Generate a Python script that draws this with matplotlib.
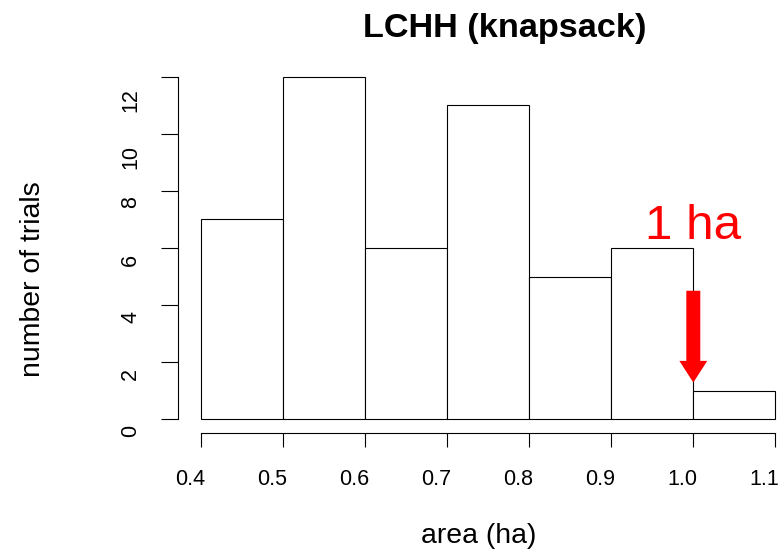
import numpy as np
import matplotlib.pyplot as plt
import matplotlib.transforms as mtransforms

plt.rcParams['font.family'] = ['Liberation Sans', 'DejaVu Sans']

# histogram data (R style hist)
bin_edges = [0.4, 0.5, 0.6, 0.7, 0.8, 0.9, 1.0, 1.1]
counts = [7, 12, 6, 11, 5, 6, 1]
x_ticks = [0.4, 0.5, 0.6, 0.7, 0.8, 0.9, 1.0, 1.1]
y_ticks = [0, 2, 4, 6, 8, 10, 12]

W, H = 781, 549
fig = plt.figure(figsize=(W / 100, H / 100), dpi=100)
# plot region in pixels: left 177.7, right 798.4, top 63.3, bottom 432.7
ax = fig.add_axes([177.7 / W, 1 - 432.7 / H, (798.4 - 177.7) / W, (432.7 - 63.3) / H])

edges = np.array(bin_edges)
ax.bar(edges[:-1], counts, width=np.diff(edges), align='edge',
       facecolor='white', edgecolor='black', linewidth=0.8)

# R extends the range by 4%
xr = edges[-1] - edges[0]
ax.set_xlim(edges[0] - 0.04 * xr, edges[-1] + 0.04 * xr)
ax.set_ylim(-0.04 * max(y_ticks), max(y_ticks) * 1.04)

for s in ['top', 'right']:
    ax.spines[s].set_visible(False)
ax.spines['bottom'].set_bounds(x_ticks[0], x_ticks[-1])
ax.spines['left'].set_bounds(y_ticks[0], y_ticks[-1])
ax.spines['bottom'].set_linewidth(0.8)
ax.spines['left'].set_linewidth(0.8)

ax.set_xticks(x_ticks)
ax.set_xticklabels(['%.1f' % v for v in x_ticks])
ax.set_yticks(y_ticks)
ax.set_yticklabels([str(v) for v in y_ticks], rotation=90, va='center')
ax.tick_params(axis='x', length=9.8, width=0.8, pad=16, labelsize=15.5)
ax.tick_params(axis='y', length=12.2, width=0.8, pad=14, labelsize=15.5)

# labels in the original sit a bit off their ticks
for lab in ax.get_xticklabels():
    lab.set_transform(lab.get_transform() +
                      mtransforms.ScaledTranslation(-11 / 100, 0, fig.dpi_scale_trans))
for lab in ax.get_yticklabels():
    dy = 23 if len(lab.get_text()) > 1 else 11.5
    lab.set_transform(lab.get_transform() +
                      mtransforms.ScaledTranslation(0, -dy / 100, fig.dpi_scale_trans))

# red arrow pointing at 1 ha
ax.arrow(1.0, 4.5, 0, 1.28 - 4.5, width=0.017, head_width=0.034,
         head_length=0.76, length_includes_head=True,
         facecolor='red', edgecolor='none')
ax.text(1.0, 6.32, '1 ha', color='red', fontsize=35.6, ha='center', va='baseline')

fig.text(504.8 / W, 1 - 36.7 / H, 'LCHH (knapsack)', fontsize=24.7,
         fontweight='bold', ha='center', va='baseline')
fig.text(479 / W, 1 - 543 / H, 'area (ha)', fontsize=20.4,
         ha='center', va='baseline')
fig.text(40.5 / W, 1 - 279.5 / H, 'number of trials', fontsize=20.4,
         rotation=90, rotation_mode='anchor', ha='center', va='baseline')

plt.savefig('out.png', dpi=100)
